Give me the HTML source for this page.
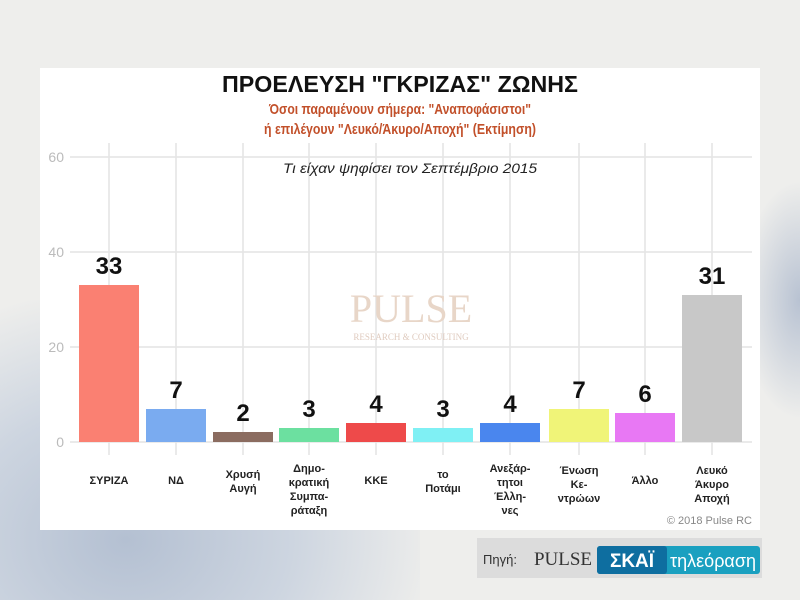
<!DOCTYPE html>
<html><head><meta charset="utf-8"><style>
body{margin:0;width:800px;height:600px;overflow:hidden;background:#eeeeec;font-family:"Liberation Sans",sans-serif;position:relative}
.bg1{position:absolute;left:0;top:300px;width:420px;height:300px;background:radial-gradient(ellipse at 30% 80%,#b4c0d2 0%,#cdd5e0 40%,rgba(238,238,236,0) 75%)}
.bg2{position:absolute;left:740px;top:180px;width:60px;height:240px;background:radial-gradient(ellipse at 100% 50%,#b8c2d2 0%,rgba(238,238,236,0) 70%)}
.panel{position:absolute;left:40px;top:68px;width:720px;height:462px;background:#fff}
</style></head><body>
<div class="bg1"></div><div class="bg2"></div>
<div class="panel"></div>
<svg width="800" height="600" style="position:absolute;left:0;top:0" font-family="Liberation Sans, sans-serif">
<g stroke="#e4e4e4" stroke-width="1.5">
<line x1="70" y1="157" x2="752" y2="157"/><line x1="70" y1="252" x2="752" y2="252"/><line x1="70" y1="347" x2="752" y2="347"/><line x1="70" y1="442" x2="752" y2="442"/>
<line x1="109" y1="143" x2="109" y2="455"/><line x1="176" y1="143" x2="176" y2="455"/><line x1="243" y1="143" x2="243" y2="455"/><line x1="309" y1="143" x2="309" y2="455"/><line x1="376" y1="143" x2="376" y2="455"/><line x1="443" y1="143" x2="443" y2="455"/><line x1="510" y1="143" x2="510" y2="455"/><line x1="579" y1="143" x2="579" y2="455"/><line x1="645" y1="143" x2="645" y2="455"/><line x1="712" y1="143" x2="712" y2="455"/>
</g>
<g font-size="14" fill="#bbb" text-anchor="end"><text x="64" y="162">60</text><text x="64" y="257">40</text><text x="64" y="352">20</text><text x="64" y="447">0</text></g>
<text x="400" y="92" font-size="23" text-anchor="middle" fill="#111" font-weight="bold" textLength="356" lengthAdjust="spacingAndGlyphs">ΠΡΟΕΛΕΥΣΗ "ΓΚΡΙΖΑΣ" ΖΩΝΗΣ</text>
<text x="400" y="114" font-size="15" text-anchor="middle" fill="#c2502a" font-weight="bold" textLength="262" lengthAdjust="spacingAndGlyphs">Όσοι παραμένουν σήμερα: "Αναποφάσιστοι"</text>
<text x="400" y="134" font-size="15" text-anchor="middle" fill="#c2502a" font-weight="bold" textLength="272" lengthAdjust="spacingAndGlyphs">ή επιλέγουν "Λευκό/Άκυρο/Αποχή" (Εκτίμηση)</text>
<text x="410" y="173" font-size="14" text-anchor="middle" fill="#222" font-style="italic" textLength="254" lengthAdjust="spacingAndGlyphs">Τι είχαν ψηφίσει τον Σεπτέμβριο 2015</text>
<text x="411" y="322" font-size="40" text-anchor="middle" fill="#e8d6c8" font-family="Liberation Serif, serif">PULSE</text>
<text x="411" y="340" font-size="9" text-anchor="middle" fill="#e0ccc0" font-family="Liberation Serif, serif">RESEARCH &amp; CONSULTING</text>
<g>
<rect x="79" y="285" width="60" height="157" fill="#fa8072"/>
<rect x="146" y="409" width="60" height="33" fill="#7aabf0"/>
<rect x="213" y="432" width="60" height="10" fill="#8b6c60"/>
<rect x="279" y="428" width="60" height="14" fill="#6ce0a0"/>
<rect x="346" y="423" width="60" height="19" fill="#ee4a4a"/>
<rect x="413" y="428" width="60" height="14" fill="#7ff0f4"/>
<rect x="480" y="423" width="60" height="19" fill="#4a86ee"/>
<rect x="549" y="409" width="60" height="33" fill="#f0f478"/>
<rect x="615" y="413" width="60" height="29" fill="#e878f4"/>
<rect x="682" y="295" width="60" height="147" fill="#c8c8c8"/>
</g>
<g font-size="24" font-weight="bold" fill="#111" text-anchor="middle">
<text x="109" y="274">33</text><text x="176" y="398">7</text><text x="243" y="421">2</text><text x="309" y="417">3</text><text x="376" y="412">4</text><text x="443" y="417">3</text><text x="510" y="412">4</text><text x="579" y="398">7</text><text x="645" y="402">6</text><text x="712" y="284">31</text>
</g>
<g font-size="11" font-weight="bold" fill="#222" text-anchor="middle">
<text x="109" y="484">ΣΥΡΙΖΑ</text><text x="176" y="484">ΝΔ</text>
<text x="243" y="478">Χρυσή</text><text x="243" y="492">Αυγή</text>
<text x="309" y="472">Δημο-</text><text x="309" y="486">κρατική</text><text x="309" y="500">Συμπα-</text><text x="309" y="514">ράταξη</text>
<text x="376" y="484">ΚΚΕ</text>
<text x="443" y="478">το</text><text x="443" y="492">Ποτάμι</text>
<text x="510" y="472">Ανεξάρ-</text><text x="510" y="486">τητοι</text><text x="510" y="500">Έλλη-</text><text x="510" y="514">νες</text>
<text x="579" y="474">Ένωση</text><text x="579" y="488">Κε-</text><text x="579" y="502">ντρώων</text>
<text x="645" y="484">Άλλο</text>
<text x="712" y="474">Λευκό</text><text x="712" y="488">Άκυρο</text><text x="712" y="502">Αποχή</text>
</g>
<text x="752" y="524" font-size="11" fill="#888" text-anchor="end">© 2018 Pulse RC</text>
<rect x="477" y="538" width="285" height="40" fill="#dcdcdc"/>
<text x="483" y="564" font-size="13" fill="#333">Πηγή:</text>
<text x="563" y="565" font-size="19" fill="#333" text-anchor="middle" font-family="Liberation Serif, serif">PULSE</text>
<rect x="597" y="546" width="163" height="28" rx="3" fill="#1aa0c0"/>
<rect x="597" y="546" width="70" height="28" rx="3" fill="#0e6ea0"/>
<text x="632" y="567" font-size="19" font-weight="bold" fill="#fff" text-anchor="middle">ΣΚΑΪ</text>
<text x="713" y="567" font-size="18" fill="#fff" text-anchor="middle">τηλεόραση</text>
</svg>
</body></html>
